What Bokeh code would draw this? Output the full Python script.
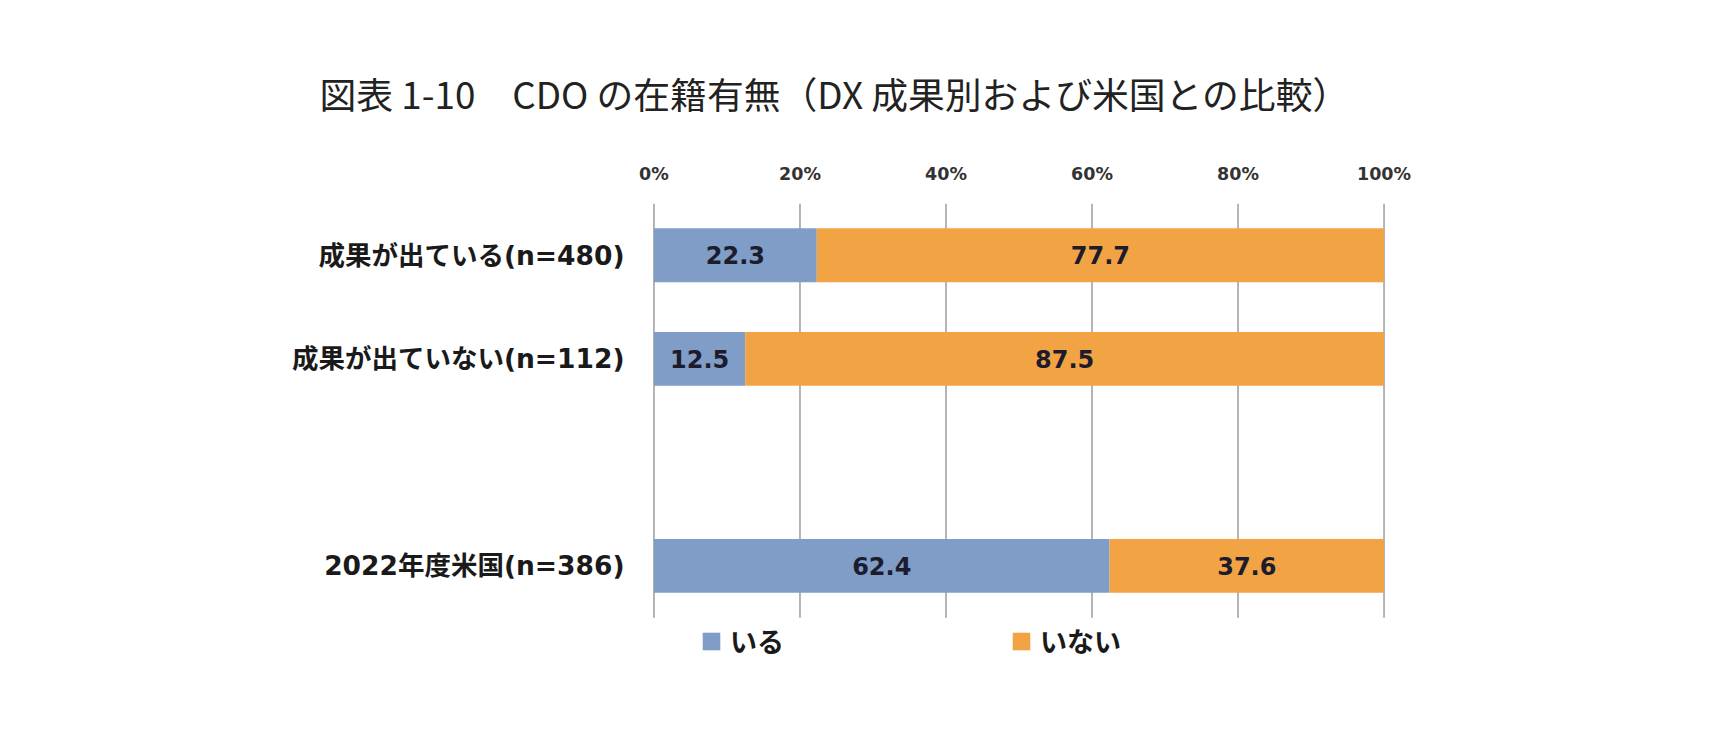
from bokeh.plotting import figure
from bokeh.models import ColumnDataSource, Range1d, Title, Legend, LegendItem
from bokeh.embed import file_html
from bokeh.resources import INLINE
from bokeh.core.properties import value

# data (percent), top to bottom; "" is the empty row
categories = ["成果が出ている(n=480)", "成果が出ていない(n=112)", "", "2022年度米国(n=386)"]
bar_cats = ["成果が出ている(n=480)", "成果が出ていない(n=112)", "2022年度米国(n=386)"]
iru = [22.3, 12.5, 62.4]      # いる
inai = [77.7, 87.5, 37.6]     # いない
x_ticks = [0, 20, 40, 60, 80, 100]

BLUE = "#7f9dc6"
ORANGE = "#f2a444"
JP = "DejaVu Sans, Noto Sans CJK JP"

n = len(categories)
slot = {c: n - i - 0.5 for i, c in enumerate(categories)}

source = ColumnDataSource(data=dict(
    y=[slot[c] for c in bar_cats],
    iru=iru,
    inai=inai,
    iru_mid=[v / 2 for v in iru],
    inai_mid=[a + b / 2 for a, b in zip(iru, inai)],
    iru_txt=[f"{v:.1f}" for v in iru],
    inai_txt=[f"{v:.1f}" for v in inai],
))

# frame reaches below the last row so the legend fits inside it
p = figure(width=1704, height=718, y_range=Range1d(-0.78, n),
           x_range=Range1d(-0.2, 100.2), x_axis_location="above",
           toolbar_location=None, tools="", output_backend="svg",
           min_border_left=652, min_border_right=319, min_border_top=203, min_border_bottom=20)
p.outline_line_color = None

p.title = Title(text="図表 1-10　CDO の在籍有無（DX 成果別および米国との比較）",
                align="left", offset=-333, standoff=81,
                text_font="Noto Sans CJK JP", text_font_size="36.8px",
                text_font_style="normal", text_color="#222222")

# grid lines only over the rows
p.segment(x0=x_ticks, x1=x_ticks, y0=0, y1=n, line_color="#9c9c9c", line_width=1.5)

r = p.hbar_stack(["iru", "inai"], y="y", height=0.52, color=[BLUE, ORANGE], source=source, line_color=None)

p.text(x="iru_mid", y="y", text="iru_txt", source=source, text_align="center", text_baseline="middle",
       text_font=value("DejaVu Sans"), text_font_size="24px", text_font_style="bold", text_color="#1c1c2c")
p.text(x="inai_mid", y="y", text="inai_txt", source=source, text_align="center", text_baseline="middle",
       text_font=value("DejaVu Sans"), text_font_size="24px", text_font_style="bold", text_color="#1c1c2c")

p.xaxis.ticker = x_ticks
p.xaxis.major_label_overrides = {t: f"{t}%" for t in x_ticks}
p.xaxis.axis_line_color = None
p.xaxis.major_tick_line_color = None
p.xaxis.minor_tick_line_color = None
p.xaxis.major_label_standoff = 14
p.xaxis.major_label_text_font = "DejaVu Sans"
p.xaxis.major_label_text_font_size = "17.5px"
p.xaxis.major_label_text_font_style = "bold"
p.xaxis.major_label_text_color = "#333333"

p.yaxis.ticker = [slot[c] for c in bar_cats]
p.yaxis.major_label_overrides = {slot[c]: c for c in bar_cats}
p.yaxis.axis_line_color = None
p.yaxis.major_tick_line_color = None
p.yaxis.minor_tick_line_color = None
p.yaxis.major_label_standoff = 22
p.yaxis.major_label_text_font = JP
p.yaxis.major_label_text_font_size = "26.5px"
p.yaxis.major_label_text_font_style = "bold"
p.yaxis.major_label_text_color = "#1a1a1a"

p.xgrid.grid_line_color = None
p.ygrid.grid_line_color = None

legend = Legend(items=[LegendItem(label="いる", renderers=[r[0]]),
                       LegendItem(label="いない", renderers=[r[1]])],
                orientation="horizontal", location=(48, 38),
                glyph_width=22, glyph_height=22, label_height=22, label_standoff=8,
                spacing=226, padding=0, margin=0,
                border_line_color=None, background_fill_alpha=0,
                label_text_font="Noto Sans CJK JP", label_text_font_size="27px",
                label_text_font_style="bold", label_text_color="#1a1a1a")
p.add_layout(legend, "center")

open("out.html", "w").write(file_html(p, INLINE))
